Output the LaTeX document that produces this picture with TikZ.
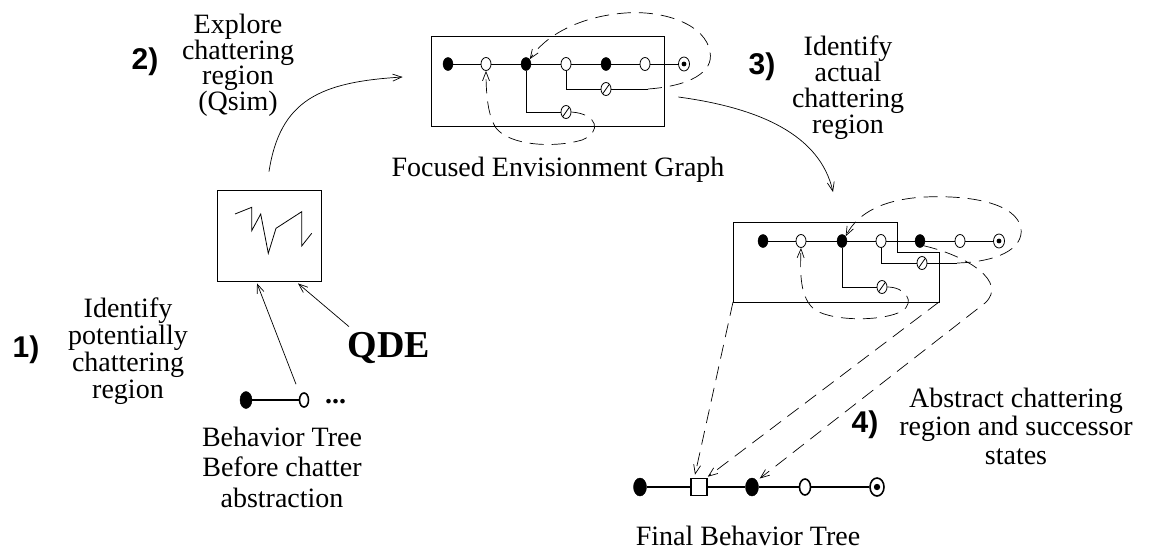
\documentclass[tikz,border=0pt]{standalone}
\usepackage{fontspec}
\setmainfont{Liberation Serif}
\newfontfamily\hsans{Liberation Sans}
\usetikzlibrary{shapes.geometric,arrows.meta}
\tikzset{
  lbl/.style={font=\fontsize{28}{27}\selectfont, align=center, inner sep=0pt},
  numl/.style={font=\hsans\bfseries\fontsize{30}{30}\selectfont, inner sep=0pt},
  fd/.style={ellipse, fill=black, draw=black, minimum width=10pt, minimum height=13pt, inner sep=0pt},
  od/.style={ellipse, draw=black, fill=white, line width=0.8pt, minimum width=10pt, minimum height=13pt, inner sep=0pt},
  sd/.style={od, path picture={\draw[line width=0.8pt] ([shift={(1.5pt,1.5pt)}]path picture bounding box.south west) -- ([shift={(-1.5pt,-1.5pt)}]path picture bounding box.north east);}},
  gd/.style={od, minimum width=11pt, minimum height=14pt},
  gline/.style={line width=0.8pt},
  fline/.style={line width=1.8pt},
  arr/.style={-{Straight Barb[length=9pt,width=7pt]}, line width=0.7pt},
  dsh/.style={dash pattern=on 14pt off 8pt, line width=0.7pt},
}
\begin{document}
\begin{tikzpicture}[x=1pt,y=-1pt]
\useasboundingbox (0,0) rectangle (1153,550);

% ---------- step 1: left box ----------
\node[draw, line width=0.8pt, minimum width=104pt, minimum height=91pt, inner sep=0pt] (lbox) at (269,235.5) {};
\draw[line width=0.8pt] (235,214) -- (251.7,207.3) -- (251.7,230.7) -- (260.7,214) -- (268.3,253.3) -- (276,228.3) -- (301.7,211.7) -- (301.7,246) -- (311.7,233.3);

\node[fd, minimum width=12pt, minimum height=17pt] (b1) at (246,400) {};
\node[od, line width=1.6pt, minimum width=9pt, minimum height=14pt] (b2) at (304,400) {};
\draw[fline] (b1) -- (b2);
\node[lbl, anchor=base west] (dots) at (325,403) {\textbf{...}};

\node[lbl, anchor=base, font=\fontsize{28}{30.5}\selectfont] (bt) at (282,507) {Behavior Tree\\Before chatter\\abstraction};
\node[lbl, anchor=base] (id1) at (128,398) {Identify\\potentially\\chattering\\region};
\node[numl] (n1) at (26,350) {1)};
\node[font=\bfseries\fontsize{38}{38}\selectfont, inner sep=0pt, anchor=base] (qde) at (389,357) {QDE};

\draw[arr] ([xshift=-8pt,yshift=8pt]b2.north) -- ([xshift=-12pt,yshift=-2pt]lbox.south);
\draw[arr] ([xshift=-40pt,yshift=5pt]qde.north) -- ([xshift=29pt,yshift=-2pt]lbox.south);

% ---------- step 2 ----------
\node[lbl, anchor=base, font=\fontsize{28}{25.5}\selectfont] (ex) at (238,110) {Explore\\chattering\\region\\(Qsim)};
\node[numl] (n2) at (145,62) {2)};

\node[draw, line width=0.8pt, minimum width=233pt, minimum height=90pt, inner sep=0pt] (fbox) at (547.5,81) {};
\node[fd] (t1) at (448,64) {};
\node[od] (t2) at (486,64) {};
\node[fd] (t3) at (526,64) {};
\node[od] (t4) at (566,64) {};
\node[fd] (t5) at (606,64) {};
\node[od] (t6) at (645,64) {};
\node[gd] (t7) at (684,64) {};
\fill (t7.center) circle (2.4pt);
\node[sd] (ts1) at (566,112) {};
\node[sd] (ts2) at (606,89) {};
\coordinate (te) at (648,89);
\draw[gline] (t1) -- (t2) -- (t3) -- (t4) -- (t5) -- (t6) -- (t7);
\draw[gline] (t3) |- (ts1);
\draw[gline] (t4) |- (ts2);
\draw[gline] (ts2) -- (te);
\draw[dsh, arr] (te) .. controls (690,86) and (714,72) .. (710,52) .. controls (706,25) and (665,10) .. (625,13) .. controls (585,16) and (548,32) .. (t3.north east);
\draw[dsh, arr] (ts1.east) .. controls (598,114) and (602,132) .. (582,140) .. controls (555,148) and (510,146) .. (496,128) .. controls (488,116) and (486,95) .. (t2.south);

\node[lbl, anchor=base] (feg) at (558,176) {Focused Envisionment Graph};

\coordinate (c2s) at ([yshift=18pt]lbox.north);
\coordinate (c2e) at ([xshift=-28pt,yshift=4pt]fbox.west);
\draw[arr] (c2s) .. controls (280,100) and (320,82) .. (c2e);

% ---------- step 3 ----------
\node[numl] (n3) at (762,67) {3)};
\node[lbl, anchor=base, font=\fontsize{28}{26}\selectfont] (ia) at (848,133) {Identify\\actual\\chattering\\region};
\coordinate (c3s) at ([xshift=14pt,yshift=-16pt]fbox.east);
\coordinate (c3e) at (833,192);
\draw[arr] (c3s) .. controls (760,108) and (820,135) .. (c3e);

\coordinate (p1) at (733,222);
\coordinate (p2) at (897,222);
\coordinate (p3) at (897,252);
\coordinate (p4) at (939,252);
\coordinate (p5) at (939,302);
\coordinate (p6) at (733,302);
\draw[line width=0.8pt] (p1) -- (p2) -- (p3) -- (p4) -- (p5) -- (p6) -- cycle;

\node[fd] (m1) at (763,241) {};
\node[od] (m2) at (801,241) {};
\node[fd] (m3) at (842,241) {};
\node[od] (m4) at (881,241) {};
\node[fd] (m5) at (920,241) {};
\node[od] (m6) at (960,241) {};
\node[gd] (m7) at (999,241) {};
\fill (m7.center) circle (2.4pt);
\node[sd] (ms1) at (882,287) {};
\node[sd] (ms2) at (922,263) {};
\coordinate (me) at (957,263);
\draw[gline] (m1) -- (m2) -- (m3) -- (m4) -- (m5) -- (m6) -- (m7);
\draw[gline] (m3) |- (ms1);
\draw[gline] (m4) |- (ms2);
\draw[gline] (ms2) -- (me);
\draw[dsh, arr] (me) .. controls (995,262) and (1024,250) .. (1021,228) .. controls (1016,203) and (970,195) .. (925,197) .. controls (885,199) and (858,212) .. (m3.north east);
\draw[dsh, arr] (ms1.east) .. controls (905,287) and (916,302) .. (902,311) .. controls (885,321) and (835,322) .. (815,310) .. controls (800,298) and (800,275) .. (m2.south);

% ---------- step 4 ----------
\node[fd, minimum width=13pt, minimum height=18pt] (f1) at (640,487) {};
\node[draw, line width=1.6pt, fill=white, minimum width=16pt, minimum height=17pt, inner sep=0pt] (fsq) at (699,487) {};
\node[fd, minimum width=13pt, minimum height=18pt] (f3) at (752,487) {};
\node[od, line width=1.6pt, minimum width=11pt, minimum height=16pt] (f4) at (805,487) {};
\node[od, line width=1.6pt, minimum width=14pt, minimum height=18pt] (f5) at (877,487) {};
\fill (f5.center) circle (3.2pt);
\draw[fline] (f1) -- (fsq) -- (f3) -- (f4) -- (f5);

\draw[dsh, arr] (p6) -- ([xshift=-4pt,yshift=3pt]fsq.north);
\draw[dsh, arr] (p5) -- ([yshift=1pt]fsq.north east);
\draw[dsh, arr] (m5.south east) .. controls (968,256) and (1008,282) .. (985,303) -- ([xshift=3pt,yshift=2pt]f3.north east);

\node[numl] (n4) at (865,425) {4)};
\node[lbl, anchor=base, font=\fontsize{28}{28.5}\selectfont] (abs) at (1016,464) {Abstract chattering\\region and successor\\states};
\node[lbl, anchor=base] (fbt) at (748,545) {Final Behavior Tree};
\end{tikzpicture}
\end{document}
